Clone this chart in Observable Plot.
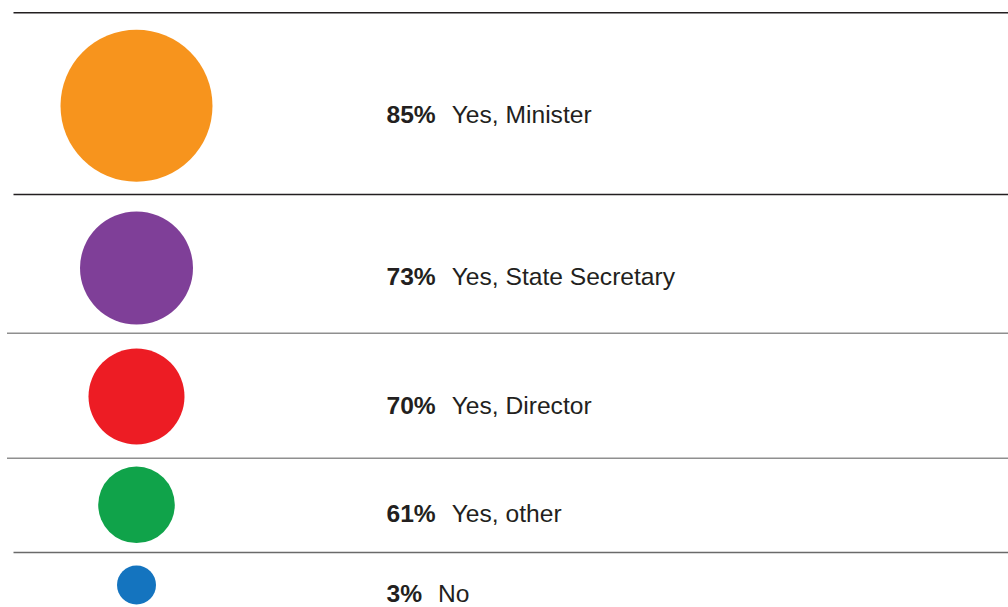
<!DOCTYPE html>
<html><head><meta charset="utf-8">
<script src="https://cdn.jsdelivr.net/npm/d3@7"></script>
<script src="https://cdn.jsdelivr.net/npm/@observablehq/plot@0.6"></script>
<style>body{margin:0;background:#fff} svg{display:block}</style>
</head><body><div id="chart"></div>
<script>
// Data
const categories = ["Yes, Minister", "Yes, State Secretary", "Yes, Director", "Yes, other", "No"];
const percents = [85, 73, 70, 61, 3];
const colors = ["#f7941d", "#7f3f98", "#ed1c24", "#10a34a", "#1474bf"];

// Layout / styling (not data)
const W = 1008, H = 607;
const fontFamily = '"Liberation Sans", Arial, Helvetica, sans-serif';
const fontSize = 24.6;
const textColor = "#231f20";
const bubbleX = 136, textX = 386, labelGap = 16;
const dividers = [-0.5, 0.5, 1.5, 2.5, 3.5];
const dividerColors = ["#231f20", "#231f20", "#8f8f8f", "#8f8f8f", "#6a6a6a"];
const dividerStarts = [13.5, 13.5, 7, 7, 13.5];

const rows = categories.map((c, i) => ({category: c, percent: percents[i], color: colors[i], i}));

// measure bold percent widths to place labels after them
const ctx = document.createElement("canvas").getContext("2d");
ctx.font = `bold ${fontSize}px ${fontFamily}`;
const pctWidth = rows.map(d => ctx.measureText(d.percent + "%").width);

const textCommon = {x: () => textX, y: "i", textAnchor: "start", lineAnchor: "top",
  fontSize, fontFamily, fill: textColor};

const chart = Plot.plot({
  width: W, height: H, margin: 0,
  style: {background: "#fff", fontFamily},
  x: {type: "linear", domain: [0, W], range: [0, W], axis: null},
  y: {type: "linear",
      domain: [-0.5, 0, 0.5, 1, 1.5, 2, 2.5, 3, 3.5, 4],
      range: [12.3, 105.3, 194, 267.5, 332.7, 396, 457.7, 504.3, 552, 584.5],
      axis: null},
  r: {type: "linear", domain: [3, 61, 70, 73, 85], range: [19.5, 38.3, 48, 56.5, 76]},
  color: {type: "identity"},
  marks: [
    Plot.ruleY(dividers, {y: d => d, x1: (d, i) => dividerStarts[i], x2: () => W,
      stroke: (d, i) => dividerColors[i], strokeWidth: 1.5}),
    Plot.dot(rows, {x: () => bubbleX, y: "i", r: "percent", fill: "color", stroke: null}),
    Plot.text(rows, {...textCommon, text: d => d.percent + "%", fontWeight: "bold"}),
    ...rows.map((d, k) => Plot.text([d], {...textCommon, text: "category",
      dx: pctWidth[k] + labelGap}))
  ]
});
document.getElementById("chart").appendChild(chart);
</script>
</body></html>
